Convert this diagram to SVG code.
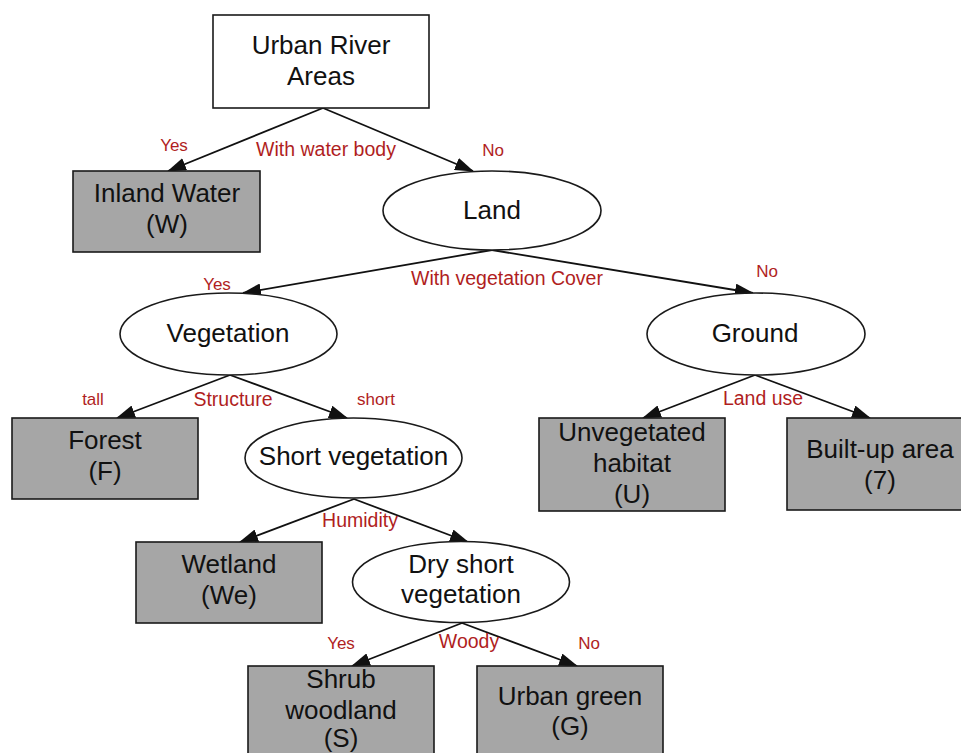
<svg xmlns="http://www.w3.org/2000/svg" width="961" height="753" viewBox="0 0 961 753">
  <style>
    .box { fill: #ffffff; stroke: #1a1a1a; stroke-width: 1.6; }
    .leaf { fill: #a6a6a6; stroke: #1a1a1a; stroke-width: 1.6; }
    .oval { fill: #ffffff; stroke: #1a1a1a; stroke-width: 1.6; }
    .t { font-family: "Liberation Sans", Arial, sans-serif; font-size: 26px; fill: #111111; text-anchor: middle; }
    .edge { stroke: #111111; stroke-width: 1.8; fill: none; marker-end: url(#arrow); }
    .lbl { font-family: "Liberation Sans", Arial, sans-serif; font-size: 17px; fill: #b01e1e; text-anchor: middle; }
    .crit { font-family: "Liberation Sans", Arial, sans-serif; font-size: 19.5px; fill: #b01e1e; text-anchor: middle; }
  </style>
  <defs>
    <marker id="arrow" markerUnits="userSpaceOnUse" markerWidth="19" markerHeight="13" refX="18" refY="6.5" orient="auto">
      <path d="M0,0 L19,6.5 L0,13 z" fill="#111111"/>
    </marker>
  </defs>
  <rect x="0" y="0" width="961" height="753" fill="#ffffff"/>

  <!-- decision edges -->
  <g id="connectors">
    <line class="edge" x1="323" y1="108" x2="168" y2="171"/>
    <line class="edge" x1="323" y1="108" x2="473" y2="171"/>
    <line class="edge" x1="492" y1="250" x2="243" y2="293"/>
    <line class="edge" x1="492" y1="250" x2="753" y2="293"/>
    <line class="edge" x1="230" y1="375" x2="117" y2="418"/>
    <line class="edge" x1="230" y1="375" x2="347" y2="418"/>
    <line class="edge" x1="755" y1="375" x2="643" y2="418"/>
    <line class="edge" x1="755" y1="375" x2="870" y2="418"/>
    <line class="edge" x1="354" y1="499" x2="240" y2="542"/>
    <line class="edge" x1="354" y1="499" x2="468" y2="542"/>
    <line class="edge" x1="462" y1="623" x2="352" y2="666"/>
    <line class="edge" x1="462" y1="623" x2="577" y2="666"/>
  </g>

  <!-- criteria and branch labels -->
  <g id="edge-labels">
    <text class="lbl" x="174" y="151">Yes</text>
    <text class="crit" x="326" y="156">With water body</text>
    <text class="lbl" x="493" y="156">No</text>

    <text class="lbl" x="217" y="290">Yes</text>
    <text class="crit" x="507" y="285">With vegetation Cover</text>
    <text class="lbl" x="767" y="277">No</text>

    <text class="lbl" x="93" y="405">tall</text>
    <text class="crit" x="233" y="406">Structure</text>
    <text class="lbl" x="376" y="405">short</text>

    <text class="crit" x="763" y="405">Land use</text>

    <text class="crit" x="360" y="527">Humidity</text>

    <text class="lbl" x="341" y="649">Yes</text>
    <text class="crit" x="469" y="648">Woody</text>
    <text class="lbl" x="589" y="649">No</text>
  </g>

  <g id="urban-river-areas">
    <rect class="box" x="213" y="15" width="216" height="93"/>
    <text class="t" x="321" y="54">Urban River</text>
    <text class="t" x="321" y="85">Areas</text>
  </g>

  <g id="inland-water">
    <rect class="leaf" x="73" y="171" width="187" height="81"/>
    <text class="t" x="167" y="202">Inland Water</text>
    <text class="t" x="167" y="233">(W)</text>
  </g>

  <g id="land">
    <ellipse class="oval" cx="492" cy="210.5" rx="109" ry="39.5"/>
    <text class="t" x="492" y="219">Land</text>
  </g>

  <g id="vegetation">
    <ellipse class="oval" cx="228.5" cy="334" rx="108.5" ry="41"/>
    <text class="t" x="228" y="342">Vegetation</text>
  </g>

  <g id="ground">
    <ellipse class="oval" cx="756" cy="334" rx="109" ry="41"/>
    <text class="t" x="755" y="342">Ground</text>
  </g>

  <g id="forest">
    <rect class="leaf" x="12" y="418" width="186" height="81"/>
    <text class="t" x="105" y="449">Forest</text>
    <text class="t" x="105" y="480">(F)</text>
  </g>

  <g id="short-vegetation">
    <ellipse class="oval" cx="353.5" cy="458" rx="108.5" ry="40"/>
    <text class="t" x="353.5" y="465">Short vegetation</text>
  </g>

  <g id="unvegetated-habitat">
    <rect class="leaf" x="539" y="418" width="186" height="93"/>
    <text class="t" x="632" y="441">Unvegetated</text>
    <text class="t" x="632" y="472">habitat</text>
    <text class="t" x="632" y="503">(U)</text>
  </g>

  <g id="built-up-area">
    <rect class="leaf" x="787" y="418" width="186" height="92"/>
    <text class="t" x="880" y="458">Built-up area</text>
    <text class="t" x="880" y="489">(7)</text>
  </g>

  <g id="wetland">
    <rect class="leaf" x="136" y="542" width="186" height="81"/>
    <text class="t" x="229" y="573">Wetland</text>
    <text class="t" x="229" y="604">(We)</text>
  </g>

  <g id="dry-short-vegetation">
    <ellipse class="oval" cx="461" cy="582" rx="108.5" ry="40.5"/>
    <text class="t" x="461" y="573">Dry short</text>
    <text class="t" x="461" y="603">vegetation</text>
  </g>

  <g id="shrub-woodland">
    <rect class="leaf" x="248" y="666" width="186" height="93"/>
    <text class="t" x="341" y="688">Shrub</text>
    <text class="t" x="341" y="719">woodland</text>
    <text class="t" x="341" y="747">(S)</text>
  </g>

  <g id="urban-green">
    <rect class="leaf" x="477" y="666" width="186" height="93"/>
    <text class="t" x="570" y="705">Urban green</text>
    <text class="t" x="570" y="735">(G)</text>
  </g>
</svg>
